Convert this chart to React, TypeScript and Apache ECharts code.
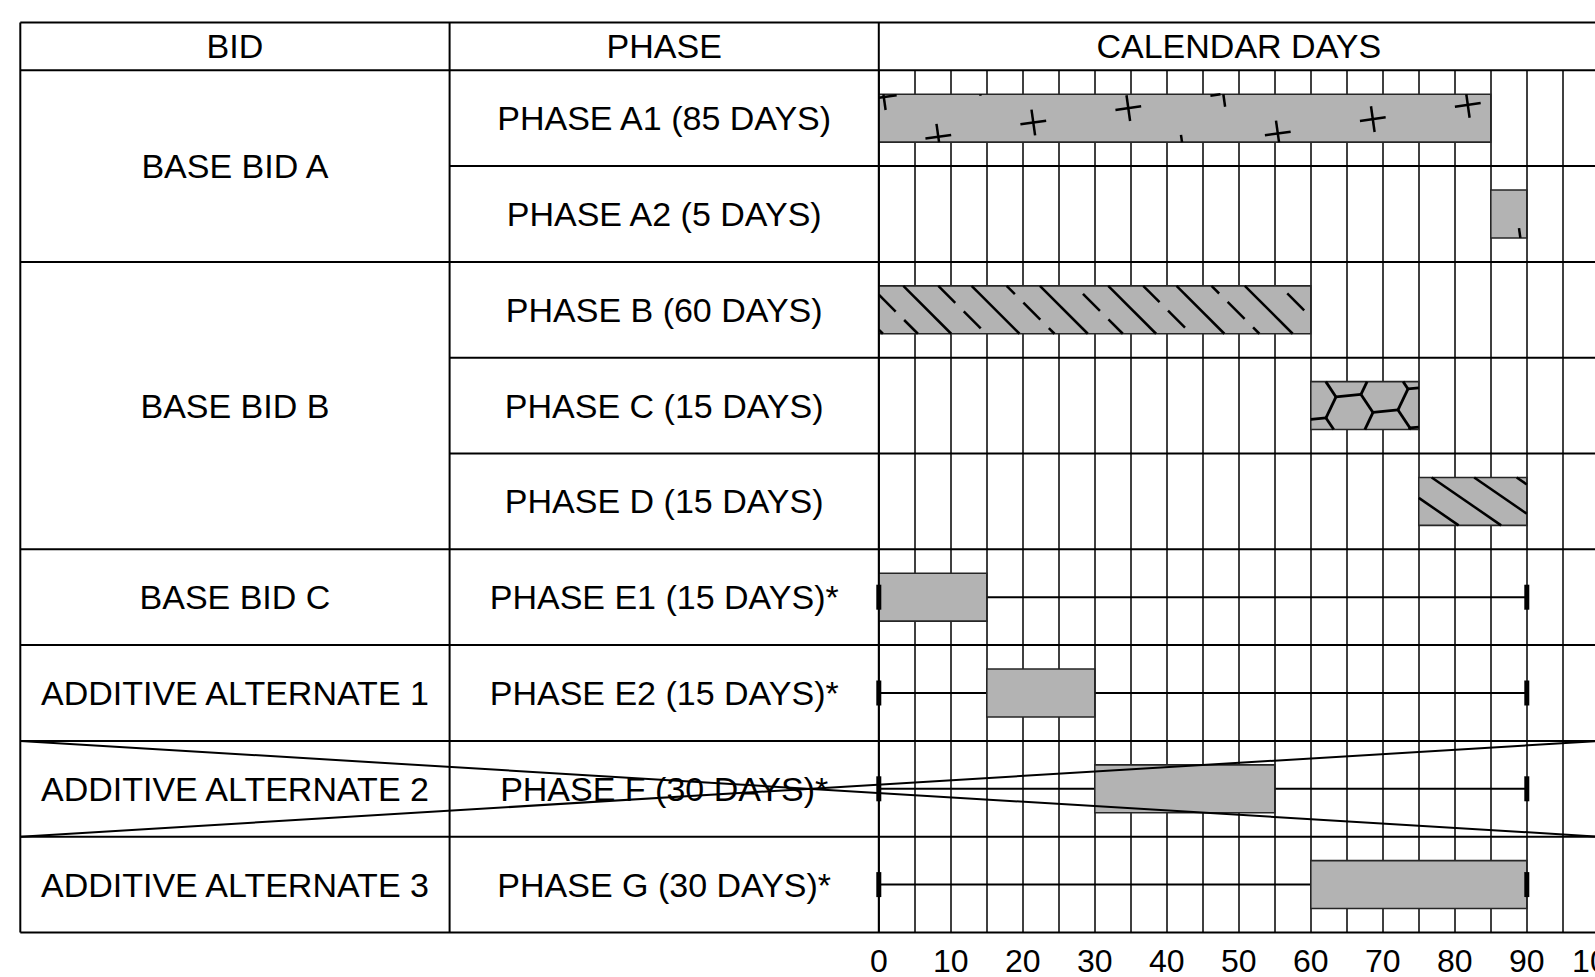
import React, { useEffect, useRef } from 'react';
import * as echarts from 'echarts';

// ---------- data ----------
const headers = ['BID', 'PHASE', 'CALENDAR DAYS'];
const bids = ['BASE BID A', 'BASE BID B', 'BASE BID C', 'ADDITIVE ALTERNATE 1', 'ADDITIVE ALTERNATE 2', 'ADDITIVE ALTERNATE 3'];
const bidRowSpans = [2, 3, 1, 1, 1, 1];
const phases = [
  'PHASE A1 (85 DAYS)',
  'PHASE A2 (5 DAYS)',
  'PHASE B (60 DAYS)',
  'PHASE C (15 DAYS)',
  'PHASE D (15 DAYS)',
  'PHASE E1 (15 DAYS)*',
  'PHASE E2 (15 DAYS)*',
  'PHASE F (30 DAYS)*',
  'PHASE G (30 DAYS)*',
];
const phaseStart = [0, 85, 0, 60, 75, 0, 15, 30, 60];
const phaseEnd = [85, 90, 60, 75, 90, 15, 30, 55, 90];
const phaseFill = ['crossesA1', 'crossesA2', 'dashHatch', 'hex', 'hatch', 'plain', 'plain', 'plain', 'plain'];
const windowRows = [5, 6, 7, 8];
const windowStart = [0, 0, 0, 0];
const windowEnd = [90, 90, 90, 90];
const deletedRows = [7];
const dayTicks = [0, 10, 20, 30, 40, 50, 60, 70, 80, 90, 100];

// ---------- styles ----------
const FONT = '"Liberation Sans", Arial, Helvetica, sans-serif';
const FONT_SIZE = 34;
const AXIS_FONT_SIZE = 32;
const BAR_FILL = '#b3b3b3';
const PATTERN_STYLE: Record<string, any> = {
  crossesA1: { kind: 'cross', ox: 59.5, oy: 42.5 },
  crossesA2: { kind: 'cross', ox: 30, oy: 51 },
  dashHatch: { kind: 'dashHatch' },
  hex: { kind: 'hex' },
  hatch: { kind: 'hatch' },
  plain: { kind: 'plain' },
};

type Seg = [number, number, number, number];

function clipSeg(s: Seg, w: number, h: number): Seg | null {
  const [x1, y1, x2, y2] = s;
  const dx = x2 - x1, dy = y2 - y1;
  const p = [-dx, dx, -dy, dy];
  const q = [x1, w - x1, y1, h - y1];
  let t0 = 0, t1 = 1;
  for (let i = 0; i < 4; i++) {
    if (p[i] === 0) {
      if (q[i] < 0) return null;
    } else {
      const t = q[i] / p[i];
      if (p[i] < 0) {
        if (t > t1) return null;
        if (t > t0) t0 = t;
      } else {
        if (t < t0) return null;
        if (t < t1) t1 = t;
      }
    }
  }
  if (t1 - t0 < 1e-6) return null;
  return [x1 + t0 * dx, y1 + t0 * dy, x1 + t1 * dx, y1 + t1 * dy];
}

function patternSegs(key: string, w: number, h: number): Seg[] {
  const st = PATTERN_STYLE[key];
  const raw: Seg[] = [];
  if (!st || st.kind === 'plain') return [];
  if (st.kind === 'cross') {
    const u = [95, -14.3], v = [244.5, 11];
    const a = (-8 * Math.PI) / 180, L = 13;
    const hx = Math.cos(a) * L, hy = Math.sin(a) * L;
    for (let i = -10; i <= 10; i++) {
      for (let j = -5; j <= 5; j++) {
        const cx = st.ox + i * u[0] + j * v[0];
        const cy = st.oy + i * u[1] + j * v[1];
        if (cx < -20 || cx > w + 20 || cy < -20 || cy > h + 20) continue;
        raw.push([cx - hx, cy - hy, cx + hx, cy + hy]);
        raw.push([cx + hy, cy - hx, cx - hy, cy + hx]);
      }
    }
  } else if (st.kind === 'dashHatch') {
    const sp = 68.3;
    const sq = Math.SQRT2;
    for (let c = 24.5 - 3 * sp; c < w + sp; c += sp) {
      raw.push([c, 0, c + h, h]);
    }
    const sRef = 59.5 / sq;
    for (let c = 59.5 - 3 * sp; c < w + sp; c += sp) {
      for (let n = -20; n < 40; n++) {
        const s0 = sRef + n * 36, s1 = s0 + 24;
        const xa = (s0 * sq + c) / 2, ya = (s0 * sq - c) / 2;
        const xb = (s1 * sq + c) / 2, yb = (s1 * sq - c) / 2;
        raw.push([xa, ya, xb, yb]);
      }
    }
  } else if (st.kind === 'hatch') {
    const sp = 42.5, k = 1.45;
    for (let c = -29.6 - 3 * sp; c < w + sp; c += sp) {
      raw.push([c, 0, c + k * h, h]);
    }
  } else if (st.kind === 'hex') {
    const O = [25.2, 15.3];
    const e1 = [25, -2.5], e2 = [-10, 21], e3 = [-12, -18];
    const T1 = [e1[0] - e2[0], e1[1] - e2[1]];
    const T2 = [e1[0] - e3[0], e1[1] - e3[1]];
    for (let n1 = -8; n1 <= 8; n1++) {
      for (let n2 = -8; n2 <= 8; n2++) {
        const ax = O[0] + n1 * T1[0] + n2 * T2[0];
        const ay = O[1] + n1 * T1[1] + n2 * T2[1];
        if (ax < -40 || ax > w + 40 || ay < -40 || ay > h + 40) continue;
        for (const e of [e1, e2, e3]) raw.push([ax, ay, ax + e[0], ay + e[1]]);
      }
    }
  }
  const out: Seg[] = [];
  for (const s of raw) {
    const c = clipSeg(s, w, h);
    if (c) out.push(c);
  }
  return out;
}

export default function App() {
  const ref = useRef<HTMLDivElement>(null);

  useEffect(() => {
    const el = ref.current!;
    const chart = echarts.init(el, undefined, { renderer: 'svg' });

    const GRID = { left: 878.8, top: 70.3, width: 720, height: 862.2 };
    const TABLE_LEFT = 20.3;
    const COL1 = 449.6;
    const TABLE_RIGHT = 1600;

    const barData = phases.map((_, i) => [i, phaseStart[i], phaseEnd[i]]);
    const windowData = windowRows.map((r, i) => [r, windowStart[i], windowEnd[i]]);

    chart.setOption({
      animation: false,
      backgroundColor: '#fff',
      grid: { ...GRID, containLabel: false, outerBoundsMode: 'none' },
      xAxis: {
        type: 'value',
        min: 0,
        max: 100,
        interval: 5,
        position: 'bottom',
        axisLine: { show: false },
        axisTick: { show: false },
        splitLine: { show: true, lineStyle: { color: '#000', width: 1.5 } },
        axisLabel: {
          show: true,
          showMinLabel: true,
          showMaxLabel: true,
          margin: 12,
          color: '#000',
          fontSize: AXIS_FONT_SIZE,
          fontFamily: FONT,
          formatter: (v: number) => (dayTicks.indexOf(v) >= 0 ? String(v) : ''),
        },
      },
      yAxis: {
        type: 'category',
        data: phases,
        inverse: true,
        axisLine: { show: false },
        axisTick: { show: false },
        splitLine: { show: false },
        axisLabel: {
          margin: GRID.left - (COL1 + GRID.left) / 2,
          align: 'center',
          color: '#000',
          fontSize: FONT_SIZE,
          fontFamily: FONT,
        },
      },
      series: [
        {
          type: 'custom',
          name: 'window',
          z: 3,
          silent: true,
          encode: { x: [1, 2], y: 0 },
          data: windowData,
          renderItem: (params: any, api: any) => {
            const row = api.value(0);
            const p0 = api.coord([api.value(1), row]);
            const p1 = api.coord([api.value(2), row]);
            return {
              type: 'line',
              shape: { x1: p0[0], y1: p0[1], x2: p1[0], y2: p1[1] },
              style: { stroke: '#000', lineWidth: 2 },
            };
          },
        },
        {
          type: 'custom',
          name: 'phases',
          z: 4,
          silent: true,
          encode: { x: [1, 2], y: 0 },
          data: barData,
          renderItem: (params: any, api: any) => {
            const row = api.value(0);
            const p0 = api.coord([api.value(1), row]);
            const p1 = api.coord([api.value(2), row]);
            const band = api.size([0, 1])[1];
            const h = band * 0.5;
            const x = p0[0];
            const y = p0[1] - h / 2;
            const w = p1[0] - p0[0];
            const segs = patternSegs(phaseFill[params.dataIndex], w, h);
            const children: any[] = [
              {
                type: 'rect',
                shape: { x, y, width: w, height: h },
                style: { fill: BAR_FILL, stroke: '#262626', lineWidth: 1.6 },
              },
            ];
            const lw = PATTERN_STYLE[phaseFill[params.dataIndex]].kind === 'hex' ? 2.8 : 2.5;
            for (const s of segs) {
              children.push({
                type: 'line',
                shape: { x1: x + s[0], y1: y + s[1], x2: x + s[2], y2: y + s[3] },
                style: { stroke: '#000', lineWidth: lw },
              });
            }
            return { type: 'group', children };
          },
        },
        {
          type: 'custom',
          name: 'windowEnds',
          z: 5,
          silent: true,
          encode: { x: [1, 2], y: 0 },
          data: windowData,
          renderItem: (params: any, api: any) => {
            const row = api.value(0);
            const p0 = api.coord([api.value(1), row]);
            const p1 = api.coord([api.value(2), row]);
            const mw = 5, mh = 25;
            return {
              type: 'group',
              children: [p0, p1].map((p) => ({
                type: 'rect',
                shape: { x: p[0] - mw / 2, y: p[1] - mh / 2, width: mw, height: mh },
                style: { fill: '#000' },
              })),
            };
          },
        },
      ],
    });

    // ---- table frame, texts, deletion marks (positions from the category scale) ----
    const rowCenter = (i: number) => chart.convertToPixel({ yAxisIndex: 0 }, i) as number;
    const rowH = rowCenter(1) - rowCenter(0);
    const rowTop = (i: number) => rowCenter(i) - rowH / 2;
    const headTop = rowTop(0) - rowH / 2;
    const headBottom = rowTop(0);
    const tableBottom = rowTop(phases.length);
    const day0 = chart.convertToPixel({ xAxisIndex: 0 }, 0) as number;
    const day100 = chart.convertToPixel({ xAxisIndex: 0 }, 100) as number;

    const LINE = { stroke: '#000', lineWidth: 2 };
    const els: any[] = [];
    const hline = (x1: number, x2: number, y: number) =>
      els.push({ type: 'line', z: 100, shape: { x1, y1: y, x2, y2: y }, style: LINE });
    const vline = (x: number, y1: number, y2: number) =>
      els.push({ type: 'line', z: 100, shape: { x1: x, y1, x2: x, y2 }, style: LINE });
    const text = (t: string, x: number, y: number) =>
      els.push({
        type: 'text',
        z: 100,
        x,
        y,
        style: {
          text: t,
          fill: '#000',
          font: `${FONT_SIZE}px ${FONT}`,
          fontSize: FONT_SIZE,
          fontFamily: FONT,
          align: 'center',
          verticalAlign: 'middle',
          textAlign: 'center',
          textVerticalAlign: 'middle',
        },
      });

    hline(TABLE_LEFT, TABLE_RIGHT, headTop);
    hline(TABLE_LEFT, TABLE_RIGHT, headBottom);
    const groupEnds: number[] = [];
    let acc = 0;
    bidRowSpans.forEach((s) => {
      acc += s;
      groupEnds.push(acc);
    });
    for (let i = 1; i <= phases.length; i++) {
      const fullWidth = groupEnds.indexOf(i) >= 0;
      hline(fullWidth ? TABLE_LEFT : COL1, TABLE_RIGHT, rowTop(i));
    }
    vline(TABLE_LEFT, headTop, tableBottom);
    vline(COL1, headTop, tableBottom);
    vline(day0, headTop, tableBottom);

    text(headers[0], (TABLE_LEFT + COL1) / 2, (headTop + headBottom) / 2);
    text(headers[1], (COL1 + day0) / 2, (headTop + headBottom) / 2);
    text(headers[2], (day0 + day100) / 2, (headTop + headBottom) / 2);

    let start = 0;
    bids.forEach((b, gi) => {
      const span = bidRowSpans[gi];
      const yc = (rowTop(start) + rowTop(start + span)) / 2;
      text(b, (TABLE_LEFT + COL1) / 2, yc);
      start += span;
    });

    deletedRows.forEach((r) => {
      const t = rowTop(r), bt = rowTop(r + 1);
      els.push({ type: 'line', z: 110, shape: { x1: TABLE_LEFT, y1: t, x2: TABLE_RIGHT, y2: bt }, style: LINE });
      els.push({ type: 'line', z: 110, shape: { x1: TABLE_LEFT, y1: bt, x2: TABLE_RIGHT, y2: t }, style: LINE });
    });

    chart.setOption({ graphic: { elements: els } });

    return () => {
      chart.dispose();
    };
  }, []);

  return (
    <div
      ref={ref}
      style={{ position: 'absolute', left: 0, top: 0, width: 1595, height: 977, background: '#fff' }}
    />
  );
}
